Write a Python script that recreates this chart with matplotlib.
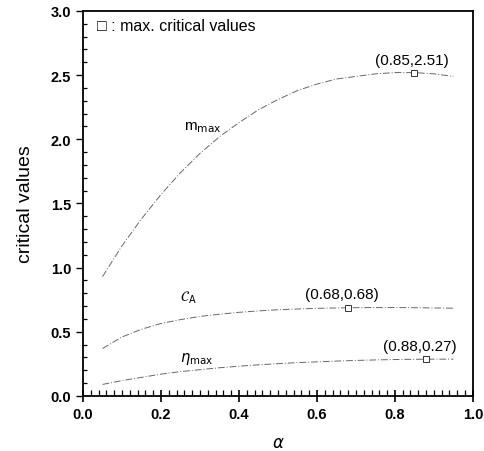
import matplotlib
matplotlib.use("Agg")
import matplotlib.pyplot as plt
from matplotlib.ticker import MultipleLocator

alpha = [0.05, 0.10, 0.15, 0.20, 0.25, 0.30, 0.35, 0.40, 0.45, 0.50,
         0.55, 0.60, 0.65, 0.70, 0.75, 0.80, 0.85, 0.90, 0.95]
m_max = [0.93, 1.17, 1.38, 1.57, 1.74, 1.89, 2.02, 2.13, 2.23, 2.31,
         2.38, 2.43, 2.47, 2.49, 2.51, 2.52, 2.52, 2.51, 2.49]
c_a = [0.37, 0.46, 0.52, 0.565, 0.595, 0.62, 0.637, 0.652, 0.663, 0.672,
       0.678, 0.683, 0.686, 0.688, 0.689, 0.689, 0.688, 0.686, 0.684]
eta_max = [0.09, 0.12, 0.145, 0.17, 0.19, 0.205, 0.22, 0.232, 0.243, 0.252,
           0.26, 0.266, 0.272, 0.277, 0.281, 0.284, 0.286, 0.287, 0.287]

peaks_x = [0.85, 0.68, 0.88]
peak_plot_y = [2.52, 0.686, 0.287]
peak_labels = ["(0.85,2.51)", "(0.68,0.68)", "(0.88,0.27)"]

plt.rcParams['font.family'] = ['Liberation Sans', 'DejaVu Sans']

fig = plt.figure(figsize=(4.84, 4.52), dpi=100)
ax = fig.add_axes([0.1715, 0.1217, 0.8055, 0.8518])

ls = (0, (7, 2, 1, 2))
for ys in (m_max, c_a, eta_max):
    ax.plot(alpha, ys, color='#666666', lw=0.7, linestyle=ls)

ax.plot(peaks_x, peak_plot_y, linestyle='none', marker='s', ms=5,
        mfc='white', mec='#333333', mew=0.7)

offsets = [(-0.10, 0.07), (-0.11, 0.08), (-0.11, 0.07)]
for x, y, lab, (dx, dy) in zip(peaks_x, peak_plot_y, peak_labels, offsets):
    ax.text(x + dx, y + dy, lab, fontsize=11)

ax.text(0.26, 2.08, r'm$_{\rm max}$', fontsize=11)
ax.text(0.25, 0.74, r'$\mathcal{C}_{\rm A}$', fontsize=10)
ax.text(0.25, 0.27, r'$\eta_{\rm max}$', fontsize=10.5)

ax.text(0.035, 2.85, '\u25a1 : max. critical values', fontsize=11.5)

ax.set_xlim(0, 1.0)
ax.set_ylim(0, 3.0)
ax.xaxis.set_major_locator(MultipleLocator(0.2))
ax.xaxis.set_minor_locator(MultipleLocator(0.02))
ax.yaxis.set_major_locator(MultipleLocator(0.5))
ax.yaxis.set_minor_locator(MultipleLocator(0.1))
ax.tick_params(axis='x', which='major', direction='inout', length=9, width=1.2)
ax.tick_params(axis='x', which='minor', direction='in', length=4, width=0.9)
ax.tick_params(axis='y', which='major', direction='out', length=5, width=1.0)
ax.tick_params(axis='y', which='minor', direction='in', length=3, width=0.9)
ax.tick_params(labelsize=10.5)
for lab in ax.get_xticklabels() + ax.get_yticklabels():
    lab.set_fontweight('bold')
for s in ax.spines.values():
    s.set_linewidth(1.3)

ax.set_ylabel('critical values', fontsize=14, labelpad=12)
ax.set_xlabel(r'$\alpha$', fontsize=12, labelpad=10)

fig.savefig('out.png', dpi=100)
